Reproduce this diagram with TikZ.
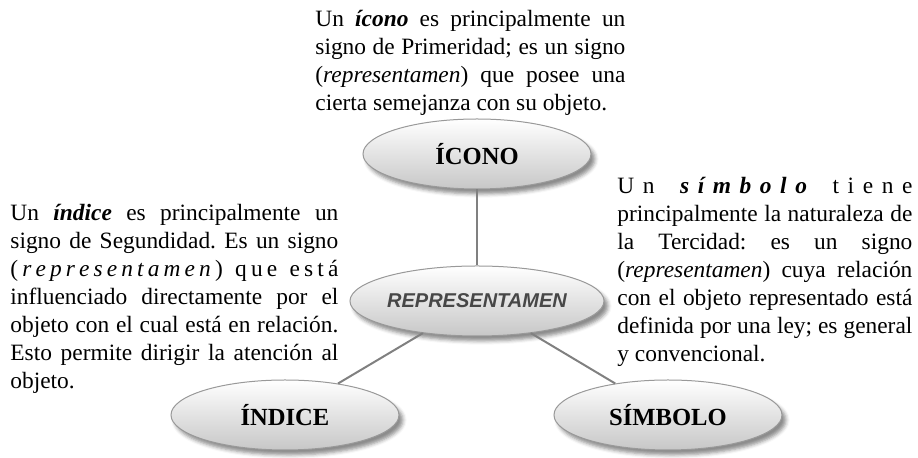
\documentclass[tikz,border=0pt]{standalone}
\usepackage{fontspec}
\setmainfont{Liberation Serif}
\newfontfamily\labelsans{Liberation Sans}
\usetikzlibrary{positioning, shapes.geometric, shadows.blur}
\frenchspacing

\begin{document}
\begin{tikzpicture}[
    x=0.5pt, y=-0.5pt,
    font=\fontsize{11.7pt}{14pt}\selectfont,
    sign/.style={
        ellipse, draw=black!40, line width=0.5pt,
        top color=white, bottom color=black!22,
        inner sep=0pt, minimum width=114pt, minimum height=35pt,
        blur shadow={shadow xshift=2pt, shadow yshift=-2.5pt,
            shadow opacity=45},
        font=\fontsize{12.3pt}{14pt}\selectfont\bfseries
    },
    note/.style={inner sep=0pt, align=justify, anchor=north west},
    link/.style={draw=black!50, line width=1pt}
]

\useasboundingbox (0,0) rectangle (918,458);

%% ─── SIGN NODES ──────────────────────────────────────────────────────────

\node[sign, text=black!72,
    font=\labelsans\fontsize{10pt}{12pt}\selectfont\bfseries\itshape]
    (repr) at (477,301) {REPRESENTAMEN};
\node[sign, above=38pt of repr]    (icono)   {ÍCONO};
\node[sign] (indice)  at (285,415) {ÍNDICE};
\node[sign] (simbolo) at (668,415) {SÍMBOLO};

%% ─── LINKS ───────────────────────────────────────────────────────────────

\draw[link] (icono) -- (repr);
\draw[link] (repr)  -- (indice);
\draw[link] (repr)  -- (simbolo);

%% ─── DEFINITIONS ─────────────────────────────────────────────────────────

\node[note, text width=155pt] (icotxt) at (315,10) {%
    Un \textbf{\textit{ícono}} es principalmente un\linebreak
    signo de Primeridad; es un signo\linebreak
    (\textit{representamen}) que posee una\linebreak
    cierta semejanza con su objeto.};

\node[note, text width=164pt] (indtxt) at (10,204) {%
    Un \textbf{\textit{índice}} es principalmente un\linebreak
    signo de Segundidad. Es un signo\linebreak
    (\hfill\textit{r\hfill e\hfill p\hfill r\hfill e\hfill s\hfill e\hfill n\hfill
    t\hfill a\hfill m\hfill e\hfill n}\hfill)\hfill\hfill\hfill
    q\hfill u\hfill e\hfill\hfill\hfill e\hfill s\hfill t\hfill á\linebreak
    influenciado directamente por el\linebreak
    objeto con el cual está en relación.\linebreak
    Esto permite dirigir la atención al\linebreak
    objeto.};

\node[note, text width=147.5pt] (simtxt) at (617,177) {%
    U\hfill n\hfill\hfill\hfill
    \textbf{\textit{s\hfill í\hfill m\hfill b\hfill o\hfill l\hfill o}}\hfill\hfill\hfill
    t\hfill i\hfill e\hfill n\hfill e\linebreak
    principalmente la naturaleza de\linebreak
    la Tercidad: es un signo\linebreak
    (\textit{representamen}) cuya relación\linebreak
    con el objeto representado está\linebreak
    definida por una ley; es general\linebreak
    y convencional.};

\end{tikzpicture}
\end{document}
